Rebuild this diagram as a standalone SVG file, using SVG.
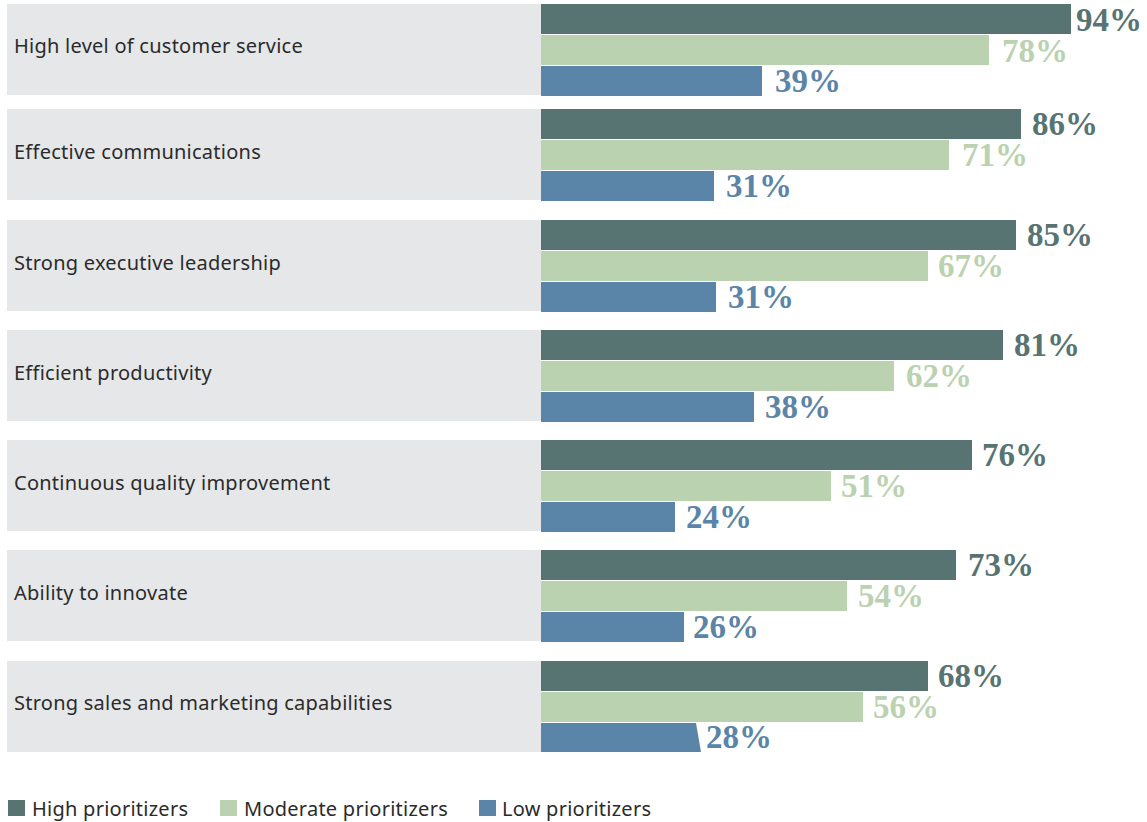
<svg xmlns="http://www.w3.org/2000/svg" width="1147" height="822" viewBox="0 0 1147 822">
<style>
.bg{fill:#e6e7e9}
.hi{fill:#577473}
.mo{fill:#bad2b0}
.lo{fill:#5b85a8}
.lbl{font-family:"Noto Sans","Open Sans",sans-serif;font-size:20px;letter-spacing:0.25px;fill:#2b2b2b}
.val{font-family:"Liberation Serif","DejaVu Serif",serif;font-size:33px;font-weight:bold}
.vhi{fill:#577473}
.vmo{fill:#bad2b0}
.vlo{fill:#5b85a8}
</style>
<rect width="1147" height="822" fill="#ffffff"/>
<g id="row1">
<rect class="bg" x="7" y="4" width="534" height="91"/>
<text class="lbl" x="14" y="53">High level of customer service</text>
<rect class="hi" x="541" y="4" width="530" height="30"/>
<rect class="mo" x="541" y="35" width="448" height="30"/>
<rect class="lo" x="541" y="66" width="221" height="30"/>
<text class="val vhi" x="1076" y="31">94%</text>
<text class="val vmo" x="1002" y="62">78%</text>
<text class="val vlo" x="775" y="92">39%</text>
</g>
<g id="row2">
<rect class="bg" x="7" y="109" width="534" height="91"/>
<text class="lbl" x="14" y="159">Effective communications</text>
<rect class="hi" x="541" y="109" width="480" height="30"/>
<rect class="mo" x="541" y="140" width="408" height="30"/>
<rect class="lo" x="541" y="171" width="173" height="30"/>
<text class="val vhi" x="1032" y="135">86%</text>
<text class="val vmo" x="962" y="166">71%</text>
<text class="val vlo" x="726" y="197">31%</text>
</g>
<g id="row3">
<rect class="bg" x="7" y="220" width="534" height="91"/>
<text class="lbl" x="14" y="270">Strong executive leadership</text>
<rect class="hi" x="541" y="220" width="475" height="30"/>
<rect class="mo" x="541" y="251" width="387" height="30"/>
<rect class="lo" x="541" y="282" width="175" height="30"/>
<text class="val vhi" x="1027" y="246">85%</text>
<text class="val vmo" x="938" y="277">67%</text>
<text class="val vlo" x="728" y="308">31%</text>
</g>
<g id="row4">
<rect class="bg" x="7" y="330" width="534" height="91"/>
<text class="lbl" x="14" y="380">Efficient productivity</text>
<rect class="hi" x="541" y="330" width="462" height="30"/>
<rect class="mo" x="541" y="361" width="353" height="30"/>
<rect class="lo" x="541" y="392" width="213" height="30"/>
<text class="val vhi" x="1014" y="356">81%</text>
<text class="val vmo" x="906" y="387">62%</text>
<text class="val vlo" x="765" y="418">38%</text>
</g>
<g id="row5">
<rect class="bg" x="7" y="440" width="534" height="91"/>
<text class="lbl" x="14" y="490">Continuous quality improvement</text>
<rect class="hi" x="541" y="440" width="431" height="30"/>
<rect class="mo" x="541" y="471" width="290" height="30"/>
<rect class="lo" x="541" y="502" width="134" height="30"/>
<text class="val vhi" x="982" y="466">76%</text>
<text class="val vmo" x="841" y="497">51%</text>
<text class="val vlo" x="686" y="528">24%</text>
</g>
<g id="row6">
<rect class="bg" x="7" y="550" width="534" height="91"/>
<text class="lbl" x="14" y="600">Ability to innovate</text>
<rect class="hi" x="541" y="550" width="415" height="30"/>
<rect class="mo" x="541" y="581" width="306" height="30"/>
<rect class="lo" x="541" y="612" width="143" height="30"/>
<text class="val vhi" x="968" y="576">73%</text>
<text class="val vmo" x="858" y="607">54%</text>
<text class="val vlo" x="693" y="638">26%</text>
</g>
<g id="row7">
<rect class="bg" x="7" y="661" width="534" height="91"/>
<text class="lbl" x="14" y="710">Strong sales and marketing capabilities</text>
<rect class="hi" x="541" y="661" width="387" height="30"/>
<rect class="mo" x="541" y="692" width="322" height="30"/>
<polygon class="lo" points="541,723 696,723 701,752 541,752"/>
<text class="val vhi" x="938" y="687">68%</text>
<text class="val vmo" x="873" y="718">56%</text>
<text class="val vlo" x="706" y="748">28%</text>
</g>
<g id="legend">
<rect class="hi" x="8" y="800" width="17" height="16"/>
<text class="lbl" x="32" y="816">High prioritizers</text>
<rect class="mo" x="220" y="800" width="17" height="16"/>
<text class="lbl" x="244" y="816">Moderate prioritizers</text>
<rect class="lo" x="479" y="800" width="17" height="16"/>
<text class="lbl" x="502" y="816">Low prioritizers</text>
</g>
<g id="connectors"></g>
</svg>
